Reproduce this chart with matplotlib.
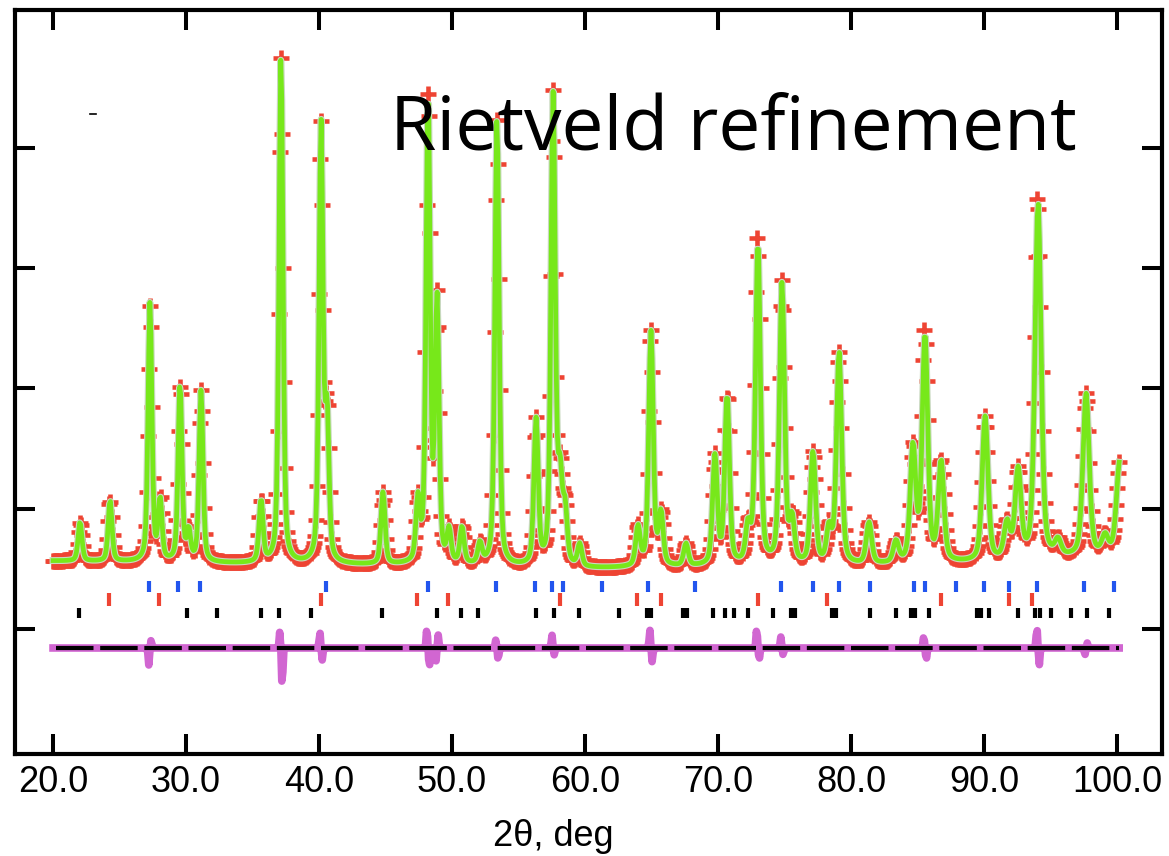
import numpy as np
import matplotlib
matplotlib.use("Agg")
import matplotlib.pyplot as plt
import matplotlib.patheffects as pe

# Refined Bragg peaks: position (deg 2θ), net height above background (counts), FWHM (deg)
peak_pos = [22.03, 24.29, 27.29, 28.05, 29.55, 30.20, 31.13, 35.64, 37.14, 40.15,
            40.60, 44.81, 47.44, 48.20, 48.87, 49.77, 50.75, 52.10, 53.38, 56.32,
            57.60, 58.12, 58.50, 59.60, 63.98, 64.96, 65.71, 67.59, 69.77, 70.68,
            72.26, 73.00, 74.81, 75.56, 77.14, 78.35, 79.10, 81.35, 83.38, 84.66,
            85.56, 86.77, 90.08, 91.73, 92.56, 94.06, 95.56, 97.67, 99.10, 100.20]
peak_height = [649, 1014, 4300, 1000, 2950, 480, 2850, 1031, 8450, 7250,
               2350, 1197, 1000, 7800, 4300, 520, 600, 333, 7450, 2400,
               7800, 1350, 850, 366, 640, 3900, 850, 366, 1800, 2800,
               580, 5350, 4650, 700, 1850, 560, 3520, 682, 349, 1900,
               3750, 1650, 2400, 580, 1450, 5900, 249, 2700, 300, 1550]
peak_fwhm = [0.34, 0.34, 0.34, 0.34, 0.34, 0.34, 0.34, 0.35, 0.35, 0.35,
             0.35, 0.36, 0.36, 0.36, 0.36, 0.36, 0.37, 0.37, 0.37, 0.38,
             0.38, 0.38, 0.38, 0.38, 0.40, 0.40, 0.40, 0.41, 0.42, 0.42,
             0.43, 0.43, 0.44, 0.44, 0.45, 0.45, 0.46, 0.47, 0.48, 0.49,
             0.49, 0.50, 0.52, 0.53, 0.53, 0.54, 0.55, 0.56, 0.57, 0.58]

# Background anchor points (deg 2θ, counts)
bg_pos = [20, 30, 40, 50, 60, 70, 80, 90, 100.2]
bg_counts = [1131, 1098, 1064, 1048, 998, 1031, 1048, 1098, 1214]

# Misfit around the strongest reflections: (deg 2θ, low-angle side, high-angle side) in counts
resid_pos = [27.29, 37.14, 40.15, 48.20, 48.87, 53.38, 57.60, 64.96, 73.00, 74.81, 85.56, 94.06, 97.67]
resid_left = [-283, 266, 266, 333, -233, 133, 216, 300, 333, 183, 200, 349, -116]
resid_right = [133, -665, -200, -333, 216, -200, -116, -233, -200, -116, -200, -283, 83]

# Reflection positions of the three phases (deg 2θ)
refl_phase1 = [27.22, 29.40, 31.05, 40.53, 48.20, 53.31, 56.24, 57.52, 58.35, 61.28,
               64.74, 68.27, 74.70, 77.14, 79.10, 81.43, 84.74, 85.56, 87.89, 90.00,
               91.88, 93.98, 97.52, 99.77]
refl_phase2 = [24.21, 27.97, 40.15, 47.37, 49.70, 58.12, 63.91, 65.71, 73.01, 78.20,
               86.77, 91.88, 93.61]
refl_phase3 = [21.95, 30.08, 32.33, 35.64, 36.99, 39.40, 44.74, 48.87, 50.68, 51.95,
               56.32, 57.67, 59.55, 62.56, 64.66, 64.96, 67.37, 67.67, 69.62, 70.53,
               71.20, 72.26, 74.14, 75.49, 75.79, 78.57, 78.87, 81.43, 83.38, 84.51,
               84.81, 85.86, 89.47, 89.77, 90.38, 92.56, 93.83, 94.21, 95.04, 96.54,
               97.74, 99.40]

x_ticks = [20, 30, 40, 50, 60, 70, 80, 90, 100]
x_tick_labels = ["20.0", "30.0", "40.0", "50.0", "60.0", "70.0", "80.0", "90.0", "100.0"]
y_ticks = [0, 2000, 4000, 6000, 8000]
diff_offset = -316

# ---------------------------------------------------------------------------
two_theta = np.arange(20.0, 100.2001, 0.08)


def pseudo_voigt(x, pos, fwhm, eta=0.45):
    d = (x - pos) / fwhm
    return eta / (1 + 4 * d ** 2) + (1 - eta) * np.exp(-4 * np.log(2) * d ** 2)


background = np.interp(two_theta, bg_pos, bg_counts)
calc = background.copy()
for p, h, w in zip(peak_pos, peak_height, peak_fwhm):
    calc += h * pseudo_voigt(two_theta, p, w)

diff = np.zeros_like(two_theta)
for p, a, b in zip(resid_pos, resid_left, resid_right):
    diff += a * np.exp(-((two_theta - (p - 0.09)) / 0.07) ** 2)
    diff += b * np.exp(-((two_theta - (p + 0.09)) / 0.07) ** 2)
obs = calc + diff

fig = plt.figure(figsize=(11.69, 8.56), dpi=100)
ax = fig.add_axes([15 / 1169, 1 - 754 / 856, 1147 / 1169, 744.5 / 856])

red = "#ee4433"
green = "#77e81a"
magenta = "#cc55cc"
blue = "#2255ee"

ax.plot(two_theta, obs, ls="none", marker="+", ms=11, mew=3.3, color=red, zorder=2)
ax.plot(two_theta, calc, color=green, lw=3.4, zorder=3,
        path_effects=[pe.Stroke(linewidth=5.0, foreground="#c9d9c0"), pe.Normal()])

ax.plot(two_theta, diff + diff_offset, color=magenta, lw=5.5, alpha=0.9, zorder=2,
        solid_joinstyle="round")
ax.hlines(diff_offset, two_theta[0] + 0.25, two_theta[-1], color="black", lw=3.0,
          linestyles=(0, (9, 1.6)), zorder=3)

ax.vlines(refl_phase1, 615, 798, color=blue, lw=3.0, zorder=2)
ax.vlines(refl_phase2, 382, 599, color=red, lw=3.0, zorder=2)
ax.vlines(refl_phase3, 183, 349, color="black", lw=3.0, zorder=2)

ax.set_xlim(17.14, 103.38)
ax.set_ylim(-2079, 10302)
ax.set_xticks(x_ticks)
ax.set_xticklabels(x_tick_labels)
ax.set_yticks(y_ticks)
ax.set_yticklabels([])
ax.tick_params(axis="both", which="major", direction="in", length=14.5, width=2.9,
               top=True, right=True, color="black")
ax.tick_params(axis="x", pad=8, labelsize=26)
for lab in ax.get_xticklabels():
    lab.set_family(["Liberation Sans"])
for s in ax.spines.values():
    s.set_linewidth(3.0)
    s.set_color("black")

ax.set_xlabel("2θ, deg", fontsize=26, family=["Liberation Sans"])
ax.xaxis.set_label_coords((553 - 15) / 1147, (754 - 836) / 744.5)
ax.xaxis.label.set_va("center")

# small stray mark on the plot
ax.plot([0.0654, 0.0706], [0.8596, 0.8596], color="black", lw=1.2, transform=ax.transAxes)

fig.text(390 / 1169, 1 - 150 / 856, "Rietveld refinement", fontsize=54,
         family="Open Sans", va="baseline", ha="left", color="black")

fig.savefig("out.png", dpi=100, facecolor="white")
